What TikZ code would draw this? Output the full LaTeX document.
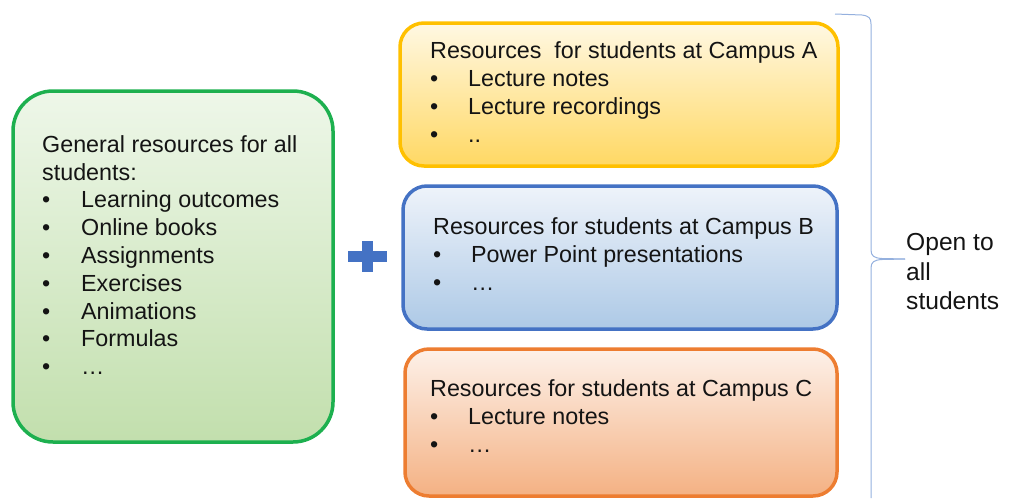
\documentclass[tikz,border=0pt]{standalone}
\usepackage{fontspec}
\setmainfont{Liberation Sans}
\definecolor{gstroke}{HTML}{1DB04F}
\definecolor{gtop}{HTML}{EEF7E9}
\definecolor{gbot}{HTML}{C2DFAD}
\definecolor{ystroke}{HTML}{FFC000}
\definecolor{ytop}{HTML}{FFF8E3}
\definecolor{ybot}{HTML}{FFD863}
\definecolor{bstroke}{HTML}{4472C4}
\definecolor{btop}{HTML}{EEF3FA}
\definecolor{bbot}{HTML}{ADC9E6}
\definecolor{ostroke}{HTML}{ED7D31}
\definecolor{otop}{HTML}{FDF1E9}
\definecolor{obot}{HTML}{F4B183}
\definecolor{bracecol}{HTML}{94B0DE}
\definecolor{txt}{HTML}{141414}
\begin{document}
\begin{tikzpicture}[x=1pt,y=-1pt,
  boxstyle/.style={line width=3.5pt, rounded corners=#1},
  txtline/.style={anchor=base west, inner sep=0pt, text=txt, font=\fontsize{23.3}{27}\selectfont},
  bigline/.style={anchor=base west, inner sep=0pt, text=txt, font=\fontsize{24.6}{29}\selectfont},
  plusarm/.style={fill=bstroke, draw=none}
]
\useasboundingbox (0,0) rectangle (1011,498);
% boxes
\path[boxstyle=40pt, draw=gstroke, top color=gtop, bottom color=gbot] (13,91) rectangle (333,442);
\path[boxstyle=24pt, draw=ystroke, top color=ytop, bottom color=ybot] (400,23) rectangle (838,166);
\path[boxstyle=24pt, draw=bstroke, top color=btop, bottom color=bbot] (403,186) rectangle (837,329);
\path[boxstyle=24pt, draw=ostroke, top color=otop, bottom color=obot] (405,349) rectangle (837,496);
% green text
\node[txtline] (g0) at (42,152) {General resources for all};
\node[txtline] (g1) at (42,180) {students:};
\foreach \t [count=\i] in {Learning outcomes,Online books,Assignments,Exercises,Animations,Formulas,\dots}{
  \node[txtline] (gb\i) at (42,{180+27.8*\i}) {\textbullet};
  \node[txtline] (gi\i) at (81,{180+27.8*\i}) {\t};
}
% yellow text
\node[txtline] (y0) at (430,58) {Resources\ \ for students at Campus A};
\foreach \t [count=\i] in {Lecture notes,Lecture recordings,..}{
  \node[txtline] (yb\i) at (430,{58+28*\i}) {\textbullet};
  \node[txtline] (yi\i) at (468,{58+28*\i}) {\t};
}
% blue text
\node[txtline] (b0) at (433,234) {Resources for students at Campus B};
\foreach \t [count=\i] in {Power Point presentations,\dots}{
  \node[txtline] (bb\i) at (433,{234+28*\i}) {\textbullet};
  \node[txtline] (bi\i) at (471,{234+28*\i}) {\t};
}
% orange text
\node[txtline] (o0) at (430,396) {Resources for students at Campus C};
\foreach \t [count=\i] in {Lecture notes,\dots}{
  \node[txtline] (ob\i) at (430,{396+28*\i}) {\textbullet};
  \node[txtline] (oi\i) at (468,{396+28*\i}) {\t};
}
% plus sign
\fill[plusarm] (348,251) rectangle (387,262);
\fill[plusarm] (362,241) rectangle (373,272);
% brace
\coordinate (btopend) at (835,14);
\coordinate (btip) at (905,259);
\coordinate (bbotend) at (871,498);
\draw[bracecol, line width=1pt]
  (btopend) -- (862,15) .. controls (869,16) and (871,18) .. (871,24)
  -- (871,250) .. controls (871,256) and (874,258) .. (882,258.5) -- (btip);
\draw[bracecol, line width=1pt]
  (btip) -- (882,259.5) .. controls (874,260) and (871,262) .. (871,268) -- (bbotend);
% label
\node[bigline] (open1) at (906,250) {Open to};
\node[bigline] (open2) at (906,280) {all};
\node[bigline] (open3) at (906,309) {students};
\end{tikzpicture}
\end{document}
